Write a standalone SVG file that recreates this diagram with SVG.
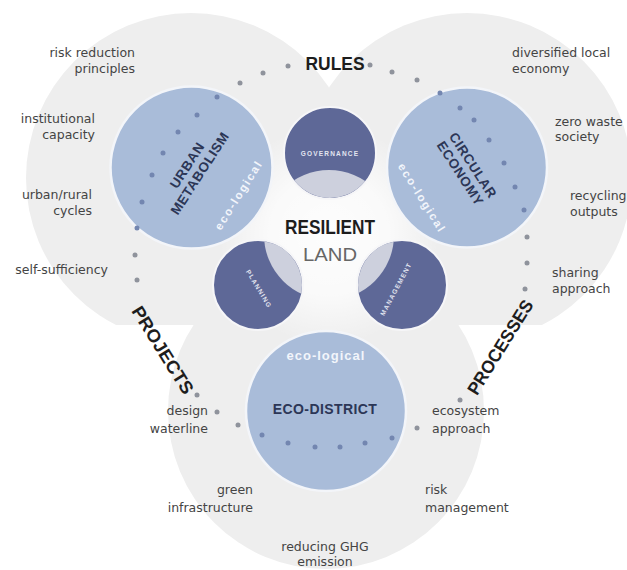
<svg xmlns="http://www.w3.org/2000/svg" width="627" height="570" viewBox="0 0 627 570">
<defs>
<style>
.big{fill:#eeeeee}
.blue{fill:#a9bcd9;stroke:#f3f5f9;stroke-width:2.5}
.dark{fill:#5e6897;stroke:#f6f6f8;stroke-width:2}
.light{fill:#cdd0dd}
.d{fill:#8f939c}
.db{fill:#7386b0}
.lbl{font-family:"DejaVu Sans","Liberation Sans",sans-serif;font-size:12.5px;fill:#444}
.hd{font-family:"Liberation Sans",Arial,sans-serif;font-weight:bold;fill:#1d1d1d}
.nv{font-family:"Liberation Sans",Arial,sans-serif;font-weight:bold;fill:#2c3656}
.wh{font-family:"Liberation Sans",Arial,sans-serif;font-weight:bold;fill:#f2f5fb}
.sm{font-family:"Liberation Sans",Arial,sans-serif;font-weight:bold;font-size:6.5px;fill:#e2e5f0;letter-spacing:1.2px}
</style>
<clipPath id="topclip"><rect x="0" y="0" width="627" height="325"/></clipPath>
<clipPath id="cc"><circle cx="329" cy="235" r="65"/></clipPath>
<radialGradient id="glow" cx="329" cy="235" r="110" gradientUnits="userSpaceOnUse">
<stop offset="0" stop-color="#ffffff" stop-opacity="0.9"/>
<stop offset="0.55" stop-color="#ffffff" stop-opacity="0.7"/>
<stop offset="1" stop-color="#ffffff" stop-opacity="0"/>
</radialGradient>
</defs>
<rect width="627" height="570" fill="#ffffff"/>
<g id="background">
<circle class="big" cx="326" cy="411" r="158"/>
<g clip-path="url(#topclip)">
<circle class="big" cx="191" cy="178" r="165"/>
<circle class="big" cx="467" cy="178" r="165"/>
</g>
<circle cx="329" cy="235" r="110" fill="url(#glow)"/>
</g>
<g id="node-urban-metabolism">
<circle class="blue" cx="191.5" cy="167.5" r="81"/>
<g transform="translate(193.5,169.5) rotate(-57)">
<text class="nv" x="0" y="-3" font-size="13.5" text-anchor="middle" letter-spacing="0.6">URBAN</text>
<text class="nv" x="0" y="12" font-size="13.5" text-anchor="middle" textLength="95" lengthAdjust="spacing">METABOLISM</text>
</g>
<text class="wh" transform="translate(238.5,195) rotate(-58)" x="0" y="4" font-size="11.5" text-anchor="middle" letter-spacing="1.8">eco-logical</text>
</g>
<g id="node-circular-economy">
<circle class="blue" cx="467" cy="167.5" r="80"/>
<g transform="translate(466.5,169.5) rotate(57)">
<text class="nv" x="0" y="-3" font-size="13.5" text-anchor="middle" letter-spacing="0.6">CIRCULAR</text>
<text class="nv" x="0" y="12" font-size="13.5" text-anchor="middle" letter-spacing="0.6">ECONOMY</text>
</g>
<text class="wh" transform="translate(422,198) rotate(58)" x="0" y="4" font-size="11.5" text-anchor="middle" letter-spacing="1.8">eco-logical</text>
</g>
<g id="node-eco-district">
<circle class="blue" cx="326" cy="411" r="80"/>
<text class="wh" x="326" y="360" font-size="13" text-anchor="middle" letter-spacing="1">eco-logical</text>
<text class="nv" x="325" y="414" font-size="14" text-anchor="middle" letter-spacing="0.4">ECO-DISTRICT</text>
</g>
<g id="node-governance">
<circle class="dark" cx="330" cy="153" r="46"/>
<circle class="light" cx="330" cy="153" r="45" clip-path="url(#cc)"/>
<text class="sm" x="330" y="155.5" text-anchor="middle">GOVERNANCE</text>
</g>
<g id="node-projects-circle">
<circle class="dark" cx="258" cy="285" r="45"/>
<circle class="light" cx="258" cy="285" r="44" clip-path="url(#cc)"/>
<text class="sm" transform="translate(259,289) rotate(59)" x="0" y="2.3" text-anchor="middle">PLANNING</text>
</g>
<g id="node-processes-circle">
<circle class="dark" cx="402" cy="285" r="45"/>
<circle class="light" cx="402" cy="285" r="44" clip-path="url(#cc)"/>
<text class="sm" transform="translate(396,289) rotate(-62)" x="0" y="2.3" text-anchor="middle">MANAGEMENT</text>
</g>
<g id="connectors">
<circle class="d" cx="370" cy="65" r="2.5"/>
<circle class="d" cx="288" cy="66" r="2.5"/>
<circle class="d" cx="263" cy="73" r="2.5"/>
<circle class="d" cx="240" cy="83" r="2.5"/>
<circle class="db" cx="217" cy="97" r="2.5"/>
<circle class="db" cx="197" cy="115" r="2.5"/>
<circle class="db" cx="178" cy="132" r="2.5"/>
<circle class="db" cx="163" cy="153" r="2.5"/>
<circle class="db" cx="152" cy="175" r="2.5"/>
<circle class="db" cx="142" cy="202" r="2.5"/>
<circle class="db" cx="137" cy="228" r="2.5"/>
<circle class="d" cx="135" cy="255" r="2.5"/>
<circle class="d" cx="137" cy="280" r="2.5"/>
<circle class="d" cx="197" cy="395" r="2.5"/>
<circle class="d" cx="217" cy="412" r="2.5"/>
<circle class="d" cx="238" cy="425" r="2.5"/>
<circle class="db" cx="262" cy="435" r="2.5"/>
<circle class="db" cx="288" cy="443" r="2.5"/>
<circle class="db" cx="315" cy="447" r="2.5"/>
<circle class="db" cx="340" cy="447" r="2.5"/>
<circle class="db" cx="365" cy="443" r="2.5"/>
<circle class="db" cx="392" cy="438" r="2.5"/>
<circle class="d" cx="417" cy="428" r="2.5"/>
<circle class="d" cx="460" cy="400" r="2.5"/>
<circle class="d" cx="525" cy="289" r="2.5"/>
<circle class="d" cx="527" cy="263" r="2.5"/>
<circle class="d" cx="527" cy="237" r="2.5"/>
<circle class="db" cx="524" cy="210" r="2.5"/>
<circle class="db" cx="515" cy="187" r="2.5"/>
<circle class="db" cx="504" cy="163" r="2.5"/>
<circle class="db" cx="489" cy="140" r="2.5"/>
<circle class="db" cx="474" cy="120" r="2.5"/>
<circle class="db" cx="460" cy="108" r="2.5"/>
<circle class="db" cx="440" cy="93" r="2.5"/>
<circle class="d" cx="417" cy="80" r="2.5"/>
<circle class="d" cx="392" cy="72" r="2.5"/>
</g>
<g id="center-title">
<text class="hd" x="330" y="234" font-size="21" text-anchor="middle" textLength="90" lengthAdjust="spacingAndGlyphs">RESILIENT</text>
<text x="330" y="261" font-family="Liberation Sans, Arial, sans-serif" font-size="19" fill="#666" text-anchor="middle" textLength="54" lengthAdjust="spacingAndGlyphs">LAND</text>
</g>
<g id="axis-labels">
<text class="hd" x="335" y="70" font-size="19" text-anchor="middle" textLength="59" lengthAdjust="spacingAndGlyphs">RULES</text>
<text class="hd" transform="translate(163,350) rotate(58)" x="0" y="6.5" font-size="18" text-anchor="middle" textLength="100" lengthAdjust="spacingAndGlyphs">PROJECTS</text>
<text class="hd" transform="translate(500,347) rotate(-58)" x="0" y="6.5" font-size="18" text-anchor="middle" textLength="108" lengthAdjust="spacingAndGlyphs">PROCESSES</text>
</g>
<g id="labels-left" class="lbl" text-anchor="end">
<text x="135" y="57">risk reduction</text>
<text x="135" y="73">principles</text>
<text x="95" y="123">institutional</text>
<text x="95" y="139">capacity</text>
<text x="92" y="199">urban/rural</text>
<text x="92" y="215">cycles</text>
<text x="108" y="274">self-sufficiency</text>
</g>
<g id="labels-right" class="lbl">
<text x="512" y="57">diversified local</text>
<text x="512" y="73">economy</text>
<text x="555" y="126">zero waste</text>
<text x="555" y="141">society</text>
<text x="570" y="200">recycling</text>
<text x="570" y="216">outputs</text>
<text x="552" y="277">sharing</text>
<text x="552" y="293">approach</text>
</g>
<g id="labels-bottom" class="lbl">
<text x="208" y="415" text-anchor="end">design</text>
<text x="208" y="433" text-anchor="end">waterline</text>
<text x="253" y="494" text-anchor="end">green</text>
<text x="253" y="512" text-anchor="end">infrastructure</text>
<text x="325" y="551" text-anchor="middle">reducing GHG</text>
<text x="325" y="566" text-anchor="middle">emission</text>
<text x="432" y="415">ecosystem</text>
<text x="432" y="433">approach</text>
<text x="425" y="494">risk</text>
<text x="425" y="512">management</text>
</g>
</svg>
